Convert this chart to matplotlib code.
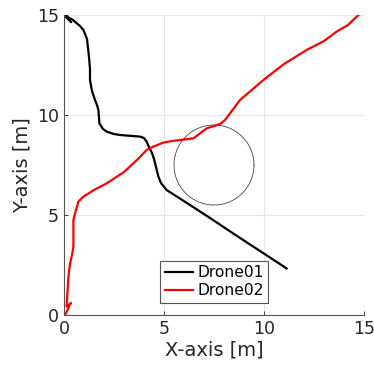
import matplotlib

matplotlib.use("Agg")
import matplotlib.pyplot as plt
import numpy as np

# path of Drone01
drone01_x = [0.35, 0.0, 0.45, 0.8, 0.97, 1.15, 1.25, 1.3, 1.3, 1.4, 1.55, 1.65, 1.72, 1.77,
             1.95, 2.13, 2.5, 2.8, 3.3, 3.8, 4.0, 4.13, 4.25, 4.4, 4.5, 4.6, 4.72, 4.85,
             5.13, 5.6, 6.3, 7.3, 8.5, 9.8, 11.13]
drone01_y = [14.65, 15.0, 14.75, 14.45, 14.25, 13.8, 12.9, 12.3, 11.75, 11.2, 10.75, 10.5, 10.25, 9.58,
             9.3, 9.17, 9.05, 9.0, 8.96, 8.92, 8.85, 8.67, 8.4, 8.1, 7.8, 7.4, 6.92, 6.6,
             6.25, 5.95, 5.5, 4.85, 4.05, 3.2, 2.33]

# path of Drone02
drone02_x = [0.05, 0.2, 0.3, 0.35, 0.13, 0.22, 0.3, 0.4, 0.47, 0.47, 0.55, 0.72, 0.97,
             1.5, 2.13, 3.0, 3.7, 4.13, 4.47, 4.97, 5.4, 5.8, 6.2, 6.47, 6.8, 7.13, 7.5,
             7.8, 8.05, 8.3, 8.8, 9.97, 11.0, 12.13, 13.0, 13.63, 14.2, 14.72]
drone02_y = [0.0, 0.3, 0.55, 0.6, 0.42, 1.92, 2.58, 3.0, 3.42, 4.75, 5.08, 5.67, 5.92,
             6.25, 6.58, 7.15, 7.8, 8.25, 8.42, 8.62, 8.7, 8.75, 8.8, 8.83, 9.08, 9.33, 9.45,
             9.55, 9.75, 10.08, 10.75, 11.75, 12.55, 13.25, 13.7, 14.17, 14.5, 15.0]

# circular obstacle
obstacle_center = (7.5, 7.5)
obstacle_radius = 2.0

ticks = [0, 5, 10, 15]

plt.rcParams["font.family"] = "DejaVu Sans"
text_color = "#262626"

fig = plt.figure(figsize=(3.74, 3.69), dpi=100)
ax = fig.add_axes([64 / 374, 54 / 369, 300 / 374, 300 / 369])

ax.grid(True, color="#e6e6e6", linewidth=0.8)
ax.set_axisbelow(True)

theta = np.linspace(0, 2 * np.pi, 200)
ax.plot(obstacle_center[0] + obstacle_radius * np.cos(theta),
        obstacle_center[1] + obstacle_radius * np.sin(theta),
        color="#444444", lw=0.6)

ax.plot(drone01_x, drone01_y, color="black", lw=1.6, label="Drone01", solid_joinstyle="round")
ax.plot(drone02_x, drone02_y, color="red", lw=1.6, label="Drone02", solid_joinstyle="round")

ax.set_xlim(0, 15)
ax.set_ylim(0, 15)
ax.set_xticks(ticks)
ax.set_yticks(ticks)
ax.tick_params(labelsize=12.5, colors=text_color, length=3, width=0.6, direction="in")
for side in ("top", "right"):
    ax.spines[side].set_visible(False)
for side in ("left", "bottom"):
    ax.spines[side].set_color("#555555")
    ax.spines[side].set_linewidth(0.8)

ax.set_xlabel("X-axis [m]", fontsize=14, color=text_color, labelpad=2)
ax.set_ylabel("Y-axis [m]", fontsize=14, color=text_color, labelpad=4)

leg = ax.legend(loc="lower left", bbox_to_anchor=(0.32, 0.04), fontsize=11.2,
                fancybox=False, edgecolor="#555555", framealpha=1,
                handlelength=1.8, handletextpad=0.3, borderpad=0.3,
                labelspacing=0.2, borderaxespad=0)
leg.get_frame().set_linewidth(0.8)

fig.savefig("out.png", dpi=100)
